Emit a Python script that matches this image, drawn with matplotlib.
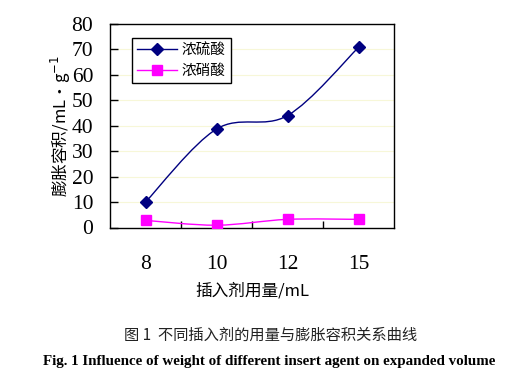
import numpy as np
import matplotlib
matplotlib.use('Agg')
import matplotlib.pyplot as plt
from matplotlib.path import Path
from matplotlib.patches import PathPatch

plt.rcParams['font.family'] = ['Liberation Serif', 'Noto Sans CJK SC', 'DejaVu Sans']

categories = ['8', '10', '12', '15']
liusuan = [10, 38.7, 44, 70.8]
xiaosuan = [2.8, 0.9, 3.2, 3.2]
series_names = ['浓硫酸', '浓硝酸']
yticks = [0, 10, 20, 30, 40, 50, 60, 70, 80]


# Excel-style smoothed line (Bezier through the data points)
def smooth_path(x, y):
    pts = np.column_stack([x, y]).astype(float)
    n = len(pts)
    verts = [pts[0]]
    codes = [Path.MOVETO]
    for i in range(n - 1):
        p0 = pts[i - 1] if i > 0 else pts[i]
        p1 = pts[i]
        p2 = pts[i + 1]
        p3 = pts[i + 2] if i + 2 < n else pts[i + 1]
        c1 = p1 + (p2 - p0) / 6.0
        c2 = p2 - (p3 - p1) / 6.0
        verts += [c1, c2, p2]
        codes += [Path.CURVE4] * 3
    return Path(verts, codes)


fig = plt.figure(figsize=(5.25, 3.73), dpi=100)
ax = fig.add_axes([110 / 525, 1 - 227.5 / 373, 284 / 525, 203.5 / 373])

xpos = np.arange(len(categories)) + 0.5

for yv in yticks[1:-1]:
    ax.axhline(yv, color='#f7f7d8', lw=0.8, zorder=0)

ax.add_patch(PathPatch(smooth_path(xpos, liusuan), fill=False, ec='#000080', lw=1.0, zorder=2))
ax.add_patch(PathPatch(smooth_path(xpos, xiaosuan), fill=False, ec='#ff00ff', lw=1.0, zorder=2))
ax.plot(xpos, liusuan, ls='none', marker='D', ms=6, color='#000080', zorder=3)
ax.plot(xpos, xiaosuan, ls='none', marker='s', ms=7, color='#ff00ff', zorder=3)

# legend handles
h1, = ax.plot([], [], '-', marker='D', ms=6, color='#000080', lw=1.0)
h2, = ax.plot([], [], '-', marker='s', ms=7, color='#ff00ff', lw=1.0)
leg = ax.legend([h1, h2], series_names, loc='upper left', bbox_to_anchor=(0.078, 0.93),
                frameon=True, fancybox=False, edgecolor='black', framealpha=1,
                prop={'family': ['Noto Sans CJK SC'], 'size': 10.5},
                handlelength=2.7, borderpad=0.35, labelspacing=0.45, handletextpad=0.35,
                borderaxespad=0)
leg.get_frame().set_linewidth(1.0)

ax.set_xlim(0, len(categories))
ax.set_ylim(0, 80)
ax.set_xticks(np.arange(1, len(categories)))
ax.set_xticklabels([])
ax.set_xticks(xpos, minor=True)
ax.set_xticklabels(categories, minor=True)
ax.tick_params(axis='x', which='major', direction='in', length=5, width=1)
ax.tick_params(axis='x', which='minor', length=0, pad=20, labelsize=15.5)
ax.set_yticks(yticks)
ax.set_yticklabels([str(v) for v in yticks])
ax.tick_params(axis='y', direction='in', length=6, width=1, labelsize=15.5, pad=12)
for sp in ax.spines.values():
    sp.set_linewidth(1.0)

ax.set_xlabel('插入剂用量/mL', fontsize=12, family=['Noto Sans CJK SC'], labelpad=6)
ax.set_ylabel('膨胀容积/mL·g$^{-1}$', fontsize=12, family=['Noto Sans CJK SC', 'DejaVu Sans'], labelpad=-1)

fig.text(0.515, 1 - 335 / 373, '图 1  不同插入剂的用量与膨胀容积关系曲线', ha='center', va='center',
         fontsize=11, family=['Noto Sans CJK SC'], color='#222222')
fig.text(0.513, 1 - 361 / 373, 'Fig. 1 Influence of weight of different insert agent on expanded volume',
         ha='center', va='center', fontsize=10.8, fontweight='bold', family=['Liberation Serif'])

fig.savefig('out.png', dpi=100)
